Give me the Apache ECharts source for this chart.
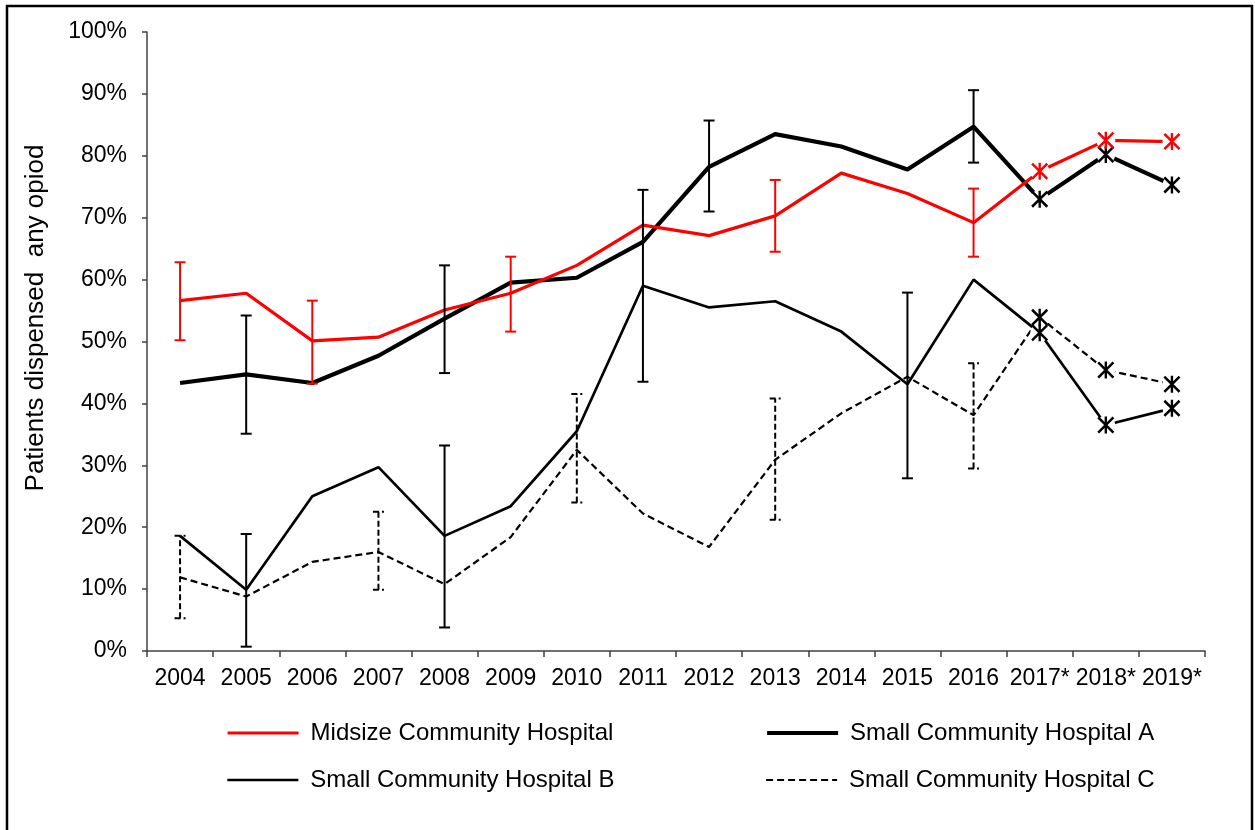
<!DOCTYPE html>
<html>
<head>
<meta charset="utf-8">
<script src="https://cdn.jsdelivr.net/npm/echarts@6/dist/echarts.min.js"></script>
<style>html,body{margin:0;padding:0;background:#fff;}#chart{width:1255px;height:830px;}</style>
</head>
<body>
<div id="chart"></div>
<script>
const categories = ['2004','2005','2006','2007','2008','2009','2010','2011','2012','2013','2014','2015','2016','2017*','2018*','2019*'];
const yTicks = [0,10,20,30,40,50,60,70,80,90,100];

const midsize = [56.6, 57.8, 50.1, 50.7, 55.1, 57.8, 62.3, 68.8, 67.1, 70.3, 77.2, 73.9, 69.2, 77.5, 82.5, 82.3];
const hospA   = [43.3, 44.7, 43.3, 47.7, 53.7, 59.5, 60.3, 66.1, 78.2, 83.5, 81.5, 77.8, 84.7, 73.0, 80.2, 75.3];
const hospB   = [18.6,  9.9, 25.0, 29.7, 18.6, 23.4, 35.5, 59.0, 55.5, 56.5, 51.6, 43.1, 60.0, 51.4, 36.5, 39.2];
const hospC   = [11.9,  8.8, 14.4, 16.0, 10.8, 18.4, 32.5, 22.2, 16.8, 30.9, 38.4, 44.3, 38.1, 53.9, 45.4, 43.1];

// error bars: [category index, low, high]
const midsizeErr = [[0, 50.2, 62.8], [2, 43.2, 56.6], [5, 51.6, 63.7], [9, 64.5, 76.1], [12, 63.7, 74.7]];
const hospAErr   = [[1, 35.1, 54.2], [4, 44.9, 62.3], [8, 71.0, 85.7], [12, 78.9, 90.6]];
const hospBErr   = [[1, 0.7, 18.9], [4, 3.8, 33.2], [7, 43.5, 74.5], [11, 27.9, 57.9]];
const hospCErr   = [[0, 5.3, 18.6], [3, 9.9, 22.5], [6, 24.0, 41.5], [9, 21.2, 40.8], [12, 29.5, 46.5]];

// categories marked with asterisk markers (projected years)
const starIdx = [13, 14, 15];

const names = ['Midsize Community Hospital','Small Community Hospital A','Small Community Hospital B','Small Community Hospital C'];
const FONT = '"Liberation Sans", Arial, sans-serif';
const STAR = 'path://M8.6 0 L11.4 0 L11.4 20 L8.6 20 Z M0 2.1 L2.1 0 L20 17.9 L17.9 20 Z M17.9 0 L20 2.1 L2.1 20 L0 17.9 Z';

const W = { mid: 3.2, A: 4.2, B: 2.7, C: 2.2 };
const DASH = [7, 4];

function lineSeries(name, data, color, width, type) {
  return {
    name: name, type: 'line', data: data, symbol: 'none', z: 2,
    lineStyle: { color: color, width: width, type: type || 'solid' },
    itemStyle: { color: color },
    emphasis: { disabled: true }, animation: false
  };
}
function starPoints(data) { return starIdx.map(i => [i, data[i]]); }
function haloSeries(data) {
  return { type: 'scatter', data: starPoints(data), symbol: 'circle', symbolSize: 19, z: 4,
    itemStyle: { color: '#fff', opacity: 1 }, silent: true, animation: false };
}
function starSeries(data, color) {
  return { type: 'scatter', data: starPoints(data), symbol: STAR, symbolSize: 17, z: 5,
    itemStyle: { color: color, opacity: 1 }, silent: true, animation: false };
}
function errSeries(data, color, dashed) {
  return {
    type: 'custom', data: data, z: 3, silent: true, animation: false,
    renderItem: function (params, api) {
      const lo = api.coord([api.value(0), api.value(1)]);
      const hi = api.coord([api.value(0), api.value(2)]);
      const w = 5.5;
      const style = { stroke: color, lineWidth: 2, lineDash: dashed ? [6, 3] : null, fill: null };
      return { type: 'group', children: [
        { type: 'line', shape: { x1: lo[0], y1: lo[1], x2: hi[0], y2: hi[1] }, style: style },
        { type: 'line', shape: { x1: hi[0] - w, y1: hi[1], x2: hi[0] + w, y2: hi[1] }, style: style },
        { type: 'line', shape: { x1: lo[0] - w, y1: lo[1], x2: lo[0] + w, y2: lo[1] }, style: style }
      ]};
    }
  };
}
function legendAt(name, left, top, color, width, type) {
  return { data: [name], left: left, top: top, padding: 0, itemWidth: 71, itemHeight: 14, selectedMode: false,
    itemStyle: { opacity: 0 },
    lineStyle: { color: color, width: width, type: type || 'solid' },
    textStyle: { fontFamily: FONT, fontSize: 24, color: '#000', padding: [0, 0, 0, 7] } };
}

const chart = echarts.init(document.getElementById('chart'), null, { renderer: 'canvas' });
chart.setOption({
  backgroundColor: '#fff',
  animation: false,
  grid: { left: 147, right: 50, top: 32, bottom: 179, containLabel: false },
  legend: [
    legendAt(names[0], 226, 721, '#ff0000', W.mid),
    legendAt(names[1], 765, 721, '#000', W.A),
    legendAt(names[2], 226, 768, '#000', W.B),
    legendAt(names[3], 765, 768, '#000', W.C, DASH)
  ],
  xAxis: {
    type: 'category', data: categories, boundaryGap: true,
    axisLine: { lineStyle: { color: '#404040', width: 1.5 } },
    axisTick: { show: true, length: 6, lineStyle: { color: '#404040', width: 1.5 } },
    axisLabel: { interval: 0, fontFamily: FONT, fontSize: 23, color: '#000', margin: 16 },
    splitLine: { show: false }
  },
  yAxis: {
    type: 'value', min: yTicks[0], max: yTicks[yTicks.length - 1], interval: 10,
    axisLine: { show: true, lineStyle: { color: '#404040', width: 1.5 } },
    axisTick: { show: true, length: 5, lineStyle: { color: '#404040', width: 1.5 } },
    axisLabel: { fontFamily: FONT, fontSize: 23, color: '#000', margin: 20, formatter: '{value}%' },
    splitLine: { show: false }
  },
  graphic: [
    { type: 'rect', shape: { x: 7, y: 6, width: 1245, height: 835 }, style: { fill: null, stroke: '#000', lineWidth: 2.5 }, silent: true },
    { type: 'text', x: 36, y: 318, rotation: Math.PI / 2,
      style: { text: 'Patients dispensed  any opiod', fontFamily: FONT, fontSize: 26, fill: '#000', align: 'center', verticalAlign: 'middle' } }
  ],
  series: [
    lineSeries(names[2], hospB, '#000', W.B),
    lineSeries(names[3], hospC, '#000', W.C, DASH),
    lineSeries(names[1], hospA, '#000', W.A),
    lineSeries(names[0], midsize, '#ff0000', W.mid),
    errSeries(midsizeErr, '#ff0000', false),
    errSeries(hospAErr, '#000', false),
    errSeries(hospBErr, '#000', false),
    errSeries(hospCErr, '#000', true),
    haloSeries(midsize), haloSeries(hospA), haloSeries(hospB), haloSeries(hospC),
    starSeries(hospB, '#000'), starSeries(hospC, '#000'), starSeries(hospA, '#000'), starSeries(midsize, '#ff0000')
  ]
});
</script>
</body>
</html>
